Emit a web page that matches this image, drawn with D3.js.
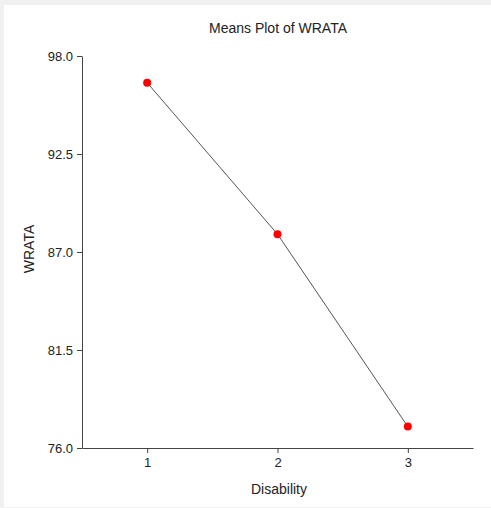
<!DOCTYPE html>
<html>
<head>
<meta charset="utf-8">
<script src="https://cdnjs.cloudflare.com/ajax/libs/d3/7.8.5/d3.min.js"></script>
<style>
  html, body { margin: 0; padding: 0; background: #f0f0f0; }
  svg { display: block; }
  text { font-family: "Liberation Sans", Arial, sans-serif; fill: #222; }
</style>
</head>
<body>
<script>
var groups = [1, 2, 3];
var means = [96.5, 88.0, 77.2];
var yTicks = [76.0, 81.5, 87.0, 92.5, 98.0];

var width = 491, height = 508;
var padLeft = 82, padRight = 473, padTop = 56, padBottom = 448;

var svg = d3.select("body").append("svg")
    .attr("width", width)
    .attr("height", height);

svg.append("rect")
    .attr("x", 4).attr("y", 5)
    .attr("width", width - 4).attr("height", height - 6)
    .attr("fill", "#fff");

var xScale = d3.scaleLinear().domain([0.5, 3.5]).range([padLeft, padRight]);
var yScale = d3.scaleLinear().domain([76, 98]).range([padBottom, padTop]);

var xAxis = d3.axisBottom(xScale).tickValues(groups).tickFormat(d3.format("d")).tickSize(5).tickSizeOuter(0);
var yAxis = d3.axisLeft(yScale).tickValues(yTicks).tickFormat(d3.format(".1f")).tickSize(5).tickSizeOuter(0);

var gx = svg.append("g")
    .attr("transform", "translate(0," + padBottom + ")")
    .call(xAxis);
var gy = svg.append("g")
    .attr("transform", "translate(" + padLeft + ",0)")
    .call(yAxis);

[gx, gy].forEach(function (g) {
    g.selectAll("path, line").attr("stroke", "#444");
    g.selectAll("text").style("font-size", "13px").attr("fill", "#222");
});
gx.selectAll("text").attr("dy", "0.85em");
gy.selectAll("text").attr("dy", "0.35em").attr("x", -9);

var data = groups.map(function (g, i) { return {x: g, y: means[i]}; });

var line = d3.line()
    .x(function (d) { return xScale(d.x); })
    .y(function (d) { return yScale(d.y); });

svg.append("path")
    .attr("d", line(data))
    .attr("fill", "none")
    .attr("stroke", "#555")
    .attr("stroke-width", 1);

svg.selectAll(".dot")
    .data(data)
    .enter()
    .append("circle")
    .attr("class", "dot")
    .attr("cx", function (d) { return xScale(d.x); })
    .attr("cy", function (d) { return yScale(d.y); })
    .attr("r", 4)
    .attr("fill", "#ff0000");

svg.append("text")
    .attr("x", 278).attr("y", 33)
    .attr("text-anchor", "middle")
    .style("font-size", "14px")
    .text("Means Plot of WRATA");

svg.append("text")
    .attr("x", 279).attr("y", 494)
    .attr("text-anchor", "middle")
    .style("font-size", "14px")
    .text("Disability");

svg.append("text")
    .attr("transform", "translate(34,249) rotate(-90)")
    .attr("text-anchor", "middle")
    .style("font-size", "14px")
    .text("WRATA");
</script>
</body>
</html>
